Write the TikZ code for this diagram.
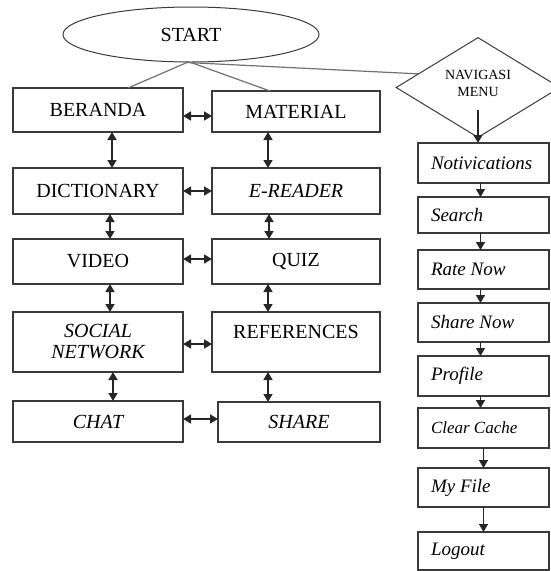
\documentclass[tikz,border=0pt]{standalone}
\usepackage{fontspec}
\setmainfont{Liberation Serif}
\usepackage{tikz}
\usetikzlibrary{arrows.meta, positioning, shapes.geometric, calc}

\definecolor{boxline}{HTML}{3A3A3A}
\definecolor{startline}{HTML}{707070}
\newcommand{\navtext}[1]{\makebox[105pt][l]{#1}}

\begin{document}
\begin{tikzpicture}[
    x=1pt, y=-1pt,
    box/.style={rectangle, draw=boxline, line width=1.2pt, align=center,
                inner sep=0pt, outer sep=0pt,
                font=\fontsize{20}{21}\selectfont},
    lbox/.style={box, minimum width=170pt},
    mbox/.style={box, minimum width=168pt},
    navbox/.style={box, minimum width=131pt,
                   font=\fontsize{19}{21}\selectfont\itshape},
    startnode/.style={ellipse, draw=boxline, line width=1pt, inner sep=0pt,
                      minimum width=256pt, minimum height=55pt,
                      font=\fontsize{20}{21}\selectfont},
    navnode/.style={diamond, draw=boxline, line width=1pt, inner sep=0pt,
                    minimum width=164pt, minimum height=95pt, align=center,
                    font=\fontsize{14}{17}\selectfont},
    link/.style={draw=startline, line width=1.2pt},
    biarrow/.style={{Triangle[length=8pt,width=9pt]}-{Triangle[length=8pt,width=9pt]},
                    line width=1.5pt, draw=black!85},
    downarrow/.style={-{Triangle[length=8pt,width=9pt]}, line width=1.5pt, draw=black!85}
]
\useasboundingbox (0,0) rectangle (550,571);

% start and navigation
\node[startnode] (start) at (191,34.5) {START};
\node[navnode]   (nav)   at (478,87.5) {NAVIGASI\\MENU\\[-9pt]\mbox{}};

% left column
\node[lbox, minimum height=44pt] (beranda)    at (98,110)   {BERANDA};
\node[lbox, minimum height=46pt] (dictionary) at (98,191)   {DICTIONARY};
\node[lbox, minimum height=45pt] (video)      at (98,261.5) {VIDEO};
\node[lbox, minimum height=60pt, font=\fontsize{20}{21}\selectfont\itshape]
                                 (social)     at (98,342)   {SOCIAL\\NETWORK};
\node[lbox, minimum height=41pt, font=\fontsize{20}{21}\selectfont\itshape]
                                 (chat)       at (98,421.5) {CHAT};

% middle column
\node[mbox, minimum height=41pt] (material)   at (296,111.5) {MATERIAL};
\node[mbox, minimum height=46pt, font=\fontsize{20}{21}\selectfont\itshape]
                                 (ereader)    at (296,191)   {E-READER};
\node[mbox, minimum height=45pt] (quiz)       at (296,261.5) {QUIZ};
\node[mbox, minimum height=60pt] (references) at (296,342)   {REFERENCES\\\mbox{}};
\node[box, minimum width=162pt, minimum height=40pt, font=\fontsize{20}{21}\selectfont\itshape]
                                 (share)      at (299,422)   {SHARE};

% navigation column
\node[navbox, minimum height=40pt] (notif)    at (483.5,163)   {\navtext{Notivications}};
\node[navbox, minimum height=36pt] (search)   at (483.5,215)   {\navtext{Search}};
\node[navbox, minimum height=39pt] (rate)     at (483.5,269.5) {\navtext{Rate Now}};
\node[navbox, minimum height=39pt] (sharenow) at (483.5,322.5) {\navtext{Share Now}};
\node[navbox, minimum height=40pt] (profile)  at (483.5,376)   {\navtext{Profile}};
\node[navbox, minimum height=40pt, font=\fontsize{17}{20}\selectfont\itshape]
                                   (cache)    at (483.5,428)   {\navtext{Clear Cache}};
\node[navbox, minimum height=39pt] (myfile)   at (483.5,487.5) {\navtext{My File}};
\node[navbox, minimum height=38pt] (logout)   at (483.5,551)   {\navtext{Logout}};

% links from start
\draw[link] ([xshift=-4pt]start.south) -- ([xshift=30pt]beranda.north);
\draw[link] (start.south) -- ([xshift=-26pt]material.north);
\draw[link] ([xshift=-4pt]start.south) -- ($(nav.west)!0.27!(nav.north)$);

% vertical arrows
\draw[biarrow] ([xshift=14pt]beranda.south)    -- ([xshift=14pt]dictionary.north);
\draw[biarrow] ([xshift=12pt]dictionary.south) -- ([xshift=12pt]video.north);
\draw[biarrow] ([xshift=12pt]video.south)      -- ([xshift=12pt]social.north);
\draw[biarrow] ([xshift=15pt]social.south)     -- ([xshift=15pt]chat.north);
\draw[biarrow] ([xshift=-28pt]material.south)  -- ([xshift=-28pt]ereader.north);
\draw[biarrow] ([xshift=-27pt]ereader.south)   -- ([xshift=-27pt]quiz.north);
\draw[biarrow] ([xshift=-28pt]quiz.south)      -- ([xshift=-28pt]references.north);
\draw[biarrow] ([xshift=-28pt]references.south) -- ([xshift=-31pt]share.north);

% horizontal arrows
\draw[biarrow] ([yshift=-6pt]beranda.east) -- ([yshift=-6pt]beranda.east -| material.west);
\draw[biarrow] (dictionary) -- (ereader);
\draw[biarrow] ([yshift=2.5pt]video.east) -- ([yshift=2.5pt]quiz.west);
\draw[biarrow] ([yshift=-2pt]social.east) -- ([yshift=-2pt]references.west);
\draw[biarrow] ([yshift=2.5pt]chat.east) -- ([yshift=2.5pt]chat.east -| share.west);

% navigation chain
\draw[downarrow] ([yshift=-22pt]nav.center) -- (notif.north -| nav.center);
\draw[downarrow] ([xshift=-3pt]notif.south)    -- ([xshift=-3pt]search.north);
\draw[downarrow] ([xshift=-3pt]search.south)   -- ([xshift=-3pt]rate.north);
\draw[downarrow] ([xshift=-3pt]rate.south)     -- ([xshift=-3pt]sharenow.north);
\draw[downarrow] ([xshift=-3pt]sharenow.south) -- ([xshift=-3pt]profile.north);
\draw[downarrow] ([xshift=-3pt]profile.south)  -- ([xshift=-3pt]cache.north);
\draw[downarrow] (cache.south)  -- (myfile.north);
\draw[downarrow] (myfile.south) -- (logout.north);

\end{tikzpicture}
\end{document}
